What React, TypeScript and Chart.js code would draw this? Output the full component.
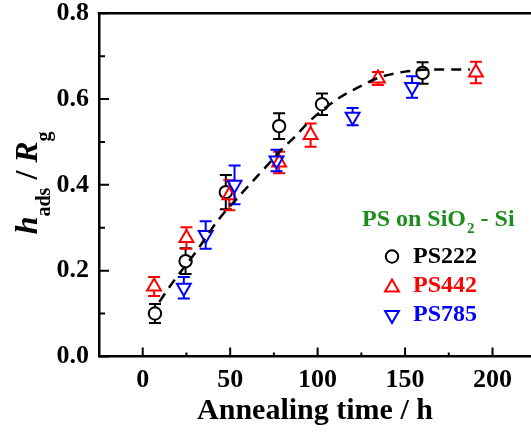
import React, { useEffect, useRef } from "react";
import { Chart, registerables } from "chart.js";

Chart.register(...registerables);

// ---- axis ticks ----
const xTicks = [0, 50, 100, 150, 200];
const xMinorTicks = [25, 75, 125, 175];
const yTicks = [0, 0.2, 0.4, 0.6, 0.8];
const yMinorTicks = [0.1, 0.3, 0.5, 0.7];

// ---- data ----
const ps222Time = [7, 24.5, 47.5, 78, 102.5, 160];
const ps222Value = [0.1, 0.222, 0.383, 0.537, 0.588, 0.661];
const ps222Err = [0.022, 0.03, 0.04, 0.03, 0.025, 0.025];

const ps442Time = [6.5, 25, 49.5, 78, 96, 134.5, 190.5];
const ps442Value = [0.163, 0.276, 0.376, 0.452, 0.516, 0.648, 0.662];
const ps442Err = [0.022, 0.025, 0.035, 0.025, 0.027, 0.015, 0.025];

const ps785Time = [23.5, 36, 52.5, 76.5, 120, 154];
const ps785Value = [0.16, 0.283, 0.4, 0.457, 0.559, 0.628];
const ps785Err = [0.025, 0.032, 0.045, 0.025, 0.02, 0.025];

const fitTime = [9.5, 16, 31, 43, 59, 70, 80, 87, 95, 112, 124, 135, 150, 165, 187];
const fitValue = [0.127, 0.166, 0.247, 0.317, 0.391, 0.44, 0.485, 0.512, 0.547, 0.602, 0.629, 0.65, 0.664, 0.669, 0.669];

const seriesNames = ["PS222", "PS442", "PS785"];
const seriesColors = ["#000000", "#ff0000", "#0000ff"];
const legendTitleMain = "PS on SiO";
const legendTitleSub = "2";
const legendTitleEnd = " - Si";
const legendColor = "#1e8c1e";
const xTitle = "Annealing time / h";

const SERIF = '"Liberation Serif", "Times New Roman", serif';

type Shape = "circle" | "up" | "down";

function drawMarker(ctx: CanvasRenderingContext2D, shape: Shape, x: number, y: number, r: number) {
  ctx.beginPath();
  if (shape === "circle") {
    ctx.arc(x, y, r, 0, Math.PI * 2);
  } else {
    let rad = shape === "up" ? 0 : Math.PI;
    for (let i = 0; i < 3; i++) {
      const px = x + Math.sin(rad) * r;
      const py = y - Math.cos(rad) * r;
      if (i === 0) ctx.moveTo(px, py);
      else ctx.lineTo(px, py);
      rad += (2 * Math.PI) / 3;
    }
    ctx.closePath();
  }
  ctx.stroke();
}

const overlayPlugin = {
  id: "overlay",
  afterDatasetDraw(chart: any, args: any) {
    const ds = chart.data.datasets[args.index] as any;
    if (!ds.errs) return;
    const ctx: CanvasRenderingContext2D = chart.ctx;
    const xs = chart.scales.x;
    const ys = chart.scales.y;
    const r = ds.pointRadius as number;
    const gapTop = ds.shape === "circle" ? r : ds.shape === "up" ? r : r / 2;
    const gapBot = ds.shape === "circle" ? r : ds.shape === "up" ? r / 2 : r;
    ctx.save();
    ctx.strokeStyle = ds.borderColor;
    ctx.lineWidth = 2;
    ds.data.forEach((p: any, i: number) => {
      const e = ds.errs[i];
      const px = xs.getPixelForValue(p.x);
      const cy = ys.getPixelForValue(p.y);
      const yt = ys.getPixelForValue(p.y + e);
      const yb = ys.getPixelForValue(p.y - e);
      ctx.beginPath();
      if (yt < cy - gapTop) {
        ctx.moveTo(px, yt);
        ctx.lineTo(px, cy - gapTop);
      }
      if (yb > cy + gapBot) {
        ctx.moveTo(px, cy + gapBot);
        ctx.lineTo(px, yb);
      }
      ctx.moveTo(px - 6, yt);
      ctx.lineTo(px + 6, yt);
      ctx.moveTo(px - 6, yb);
      ctx.lineTo(px + 6, yb);
      ctx.stroke();
    });
    ctx.restore();
  },
  afterDraw(chart: any) {
    const ctx: CanvasRenderingContext2D = chart.ctx;
    const { left, right, top, bottom } = chart.chartArea;
    const xs = chart.scales.x;
    const ys = chart.scales.y;
    ctx.save();
    ctx.strokeStyle = "#000";
    // top frame line
    ctx.lineWidth = 2.5;
    ctx.beginPath();
    ctx.moveTo(left - 1.25, top);
    ctx.lineTo(right, top);
    ctx.stroke();
    // inward ticks
    ctx.lineWidth = 2;
    ctx.beginPath();
    yTicks.forEach((v) => {
      const y = ys.getPixelForValue(v);
      ctx.moveTo(left, y);
      ctx.lineTo(left + 10, y);
    });
    yMinorTicks.forEach((v) => {
      const y = ys.getPixelForValue(v);
      ctx.moveTo(left, y);
      ctx.lineTo(left + 6, y);
    });
    xTicks.forEach((v) => {
      const x = xs.getPixelForValue(v);
      ctx.moveTo(x, bottom);
      ctx.lineTo(x, bottom - 9);
    });
    xMinorTicks.forEach((v) => {
      const x = xs.getPixelForValue(v);
      ctx.moveTo(x, bottom);
      ctx.lineTo(x, bottom - 4);
    });
    ctx.stroke();

    // y-axis title with subscripts
    const parts = [
      { t: "h", f: `italic bold 32px ${SERIF}`, d: 0 },
      { t: "ads", f: `bold 20px ${SERIF}`, d: 13 },
      { t: " / ", f: `bold 32px ${SERIF}`, d: 0 },
      { t: "R", f: `italic bold 32px ${SERIF}`, d: 0 },
      { t: "g", f: `bold 20px ${SERIF}`, d: 13 },
    ];
    let total = 0;
    const widths = parts.map((p) => {
      ctx.font = p.f;
      const w = ctx.measureText(p.t).width;
      total += w;
      return w;
    });
    ctx.save();
    ctx.translate(37, (top + bottom) / 2 - 2);
    ctx.rotate(-Math.PI / 2);
    ctx.fillStyle = "#000";
    ctx.textBaseline = "alphabetic";
    ctx.textAlign = "left";
    let cx = -total / 2;
    parts.forEach((p, i) => {
      ctx.font = p.f;
      ctx.fillText(p.t, cx, p.d);
      cx += widths[i];
    });
    ctx.restore();

    // legend
    ctx.textAlign = "left";
    ctx.textBaseline = "alphabetic";
    ctx.fillStyle = legendColor;
    let lx = 362;
    ctx.font = `bold 24px ${SERIF}`;
    ctx.fillText(legendTitleMain, lx, 226);
    lx += ctx.measureText(legendTitleMain).width + 1;
    ctx.font = `bold 15px ${SERIF}`;
    ctx.fillText(legendTitleSub, lx, 233);
    lx += ctx.measureText(legendTitleSub).width;
    ctx.font = `bold 24px ${SERIF}`;
    ctx.fillText(legendTitleEnd, lx, 226);

    const shapes: Shape[] = ["circle", "up", "down"];
    const rows = [263.3, 291.8, 320.5];
    const markerY = [256.5, 287.5, 315];
    const radii = [6.2, 8, 8];
    seriesNames.forEach((name, i) => {
      ctx.strokeStyle = seriesColors[i];
      ctx.lineWidth = 2;
      drawMarker(ctx, shapes[i], 392, markerY[i], radii[i]);
      ctx.fillStyle = seriesColors[i];
      ctx.font = `bold 24px ${SERIF}`;
      ctx.fillText(name, 413, rows[i]);
    });
    ctx.restore();
  },
};

function makeSeries(
  label: string,
  xsArr: number[],
  ysArr: number[],
  errs: number[],
  color: string,
  shape: Shape,
  order: number
) {
  return {
    type: "scatter" as const,
    label,
    data: xsArr.map((x, i) => ({ x, y: ysArr[i] })),
    errs,
    shape,
    order,
    showLine: false,
    borderColor: color,
    backgroundColor: "rgba(0,0,0,0)",
    pointBorderColor: color,
    pointBackgroundColor: "rgba(0,0,0,0)",
    pointBorderWidth: 2,
    pointRadius: shape === "circle" ? 6.2 : 8,
    pointStyle: shape === "circle" ? "circle" : "triangle",
    pointRotation: shape === "down" ? 180 : 0,
  };
}

export default function App() {
  const canvasRef = useRef<HTMLCanvasElement | null>(null);

  useEffect(() => {
    if (!canvasRef.current) return;
    Chart.defaults.font.family = SERIF;
    const chart = new Chart(canvasRef.current, {
      type: "scatter",
      data: {
        datasets: [
          makeSeries(seriesNames[0], ps222Time, ps222Value, ps222Err, seriesColors[0], "circle", 4),
          makeSeries(seriesNames[1], ps442Time, ps442Value, ps442Err, seriesColors[1], "up", 3),
          makeSeries(seriesNames[2], ps785Time, ps785Value, ps785Err, seriesColors[2], "down", 2),
          {
            type: "line" as const,
            label: "fit",
            data: fitTime.map((x, i) => ({ x, y: fitValue[i] })),
            order: 1,
            borderColor: "#000",
            borderWidth: 2.5,
            borderDash: [10, 7],
            pointRadius: 0,
            fill: false,
            cubicInterpolationMode: "monotone" as const,
            showLine: true,
          } as any,
        ],
      },
      options: {
        responsive: false,
        animation: false,
        devicePixelRatio: 1,
        layout: { autoPadding: false, padding: { left: 46.5, top: 13.3, right: 0, bottom: 0 } },
        plugins: {
          legend: { display: false },
          tooltip: { enabled: false },
        },
        scales: {
          x: {
            type: "linear",
            min: -25,
            max: 222,
            afterBuildTicks: (scale: any) => {
              scale.ticks = xTicks.map((v) => ({ value: v }));
            },
            grid: { display: false, drawTicks: false },
            border: { display: true, color: "#000", width: 2.5 },
            ticks: {
              color: "#000",
              font: { size: 26, weight: "bold", family: SERIF, lineHeight: 1 },
              padding: 10.5,
              maxRotation: 0,
              autoSkip: false,
              callback: (v: any) => String(v),
            },
            title: {
              display: true,
              text: xTitle,
              color: "#000",
              font: { size: 30, weight: "bold", family: SERIF, lineHeight: 0.54 },
              padding: { top: 0, bottom: 14.4 },
            },
          },
          y: {
            type: "linear",
            min: 0,
            max: 0.8,
            afterBuildTicks: (scale: any) => {
              scale.ticks = yTicks.map((v) => ({ value: v }));
            },
            grid: { display: false, drawTicks: false },
            border: { display: true, color: "#000", width: 2.5 },
            ticks: {
              color: "#000",
              font: { size: 26, weight: "bold", family: SERIF, lineHeight: 0.2 },
              padding: 10,
              autoSkip: false,
              callback: (v: any) => Number(v).toFixed(1),
            },
          },
        },
      } as any,
      plugins: [overlayPlugin],
    });
    return () => chart.destroy();
  }, []);

  return (
    <div style={{ position: "fixed", left: 0, top: 0, width: 531, height: 434, background: "#fff" }}>
      <canvas ref={canvasRef} width={531} height={434} style={{ display: "block" }} />
    </div>
  );
}
